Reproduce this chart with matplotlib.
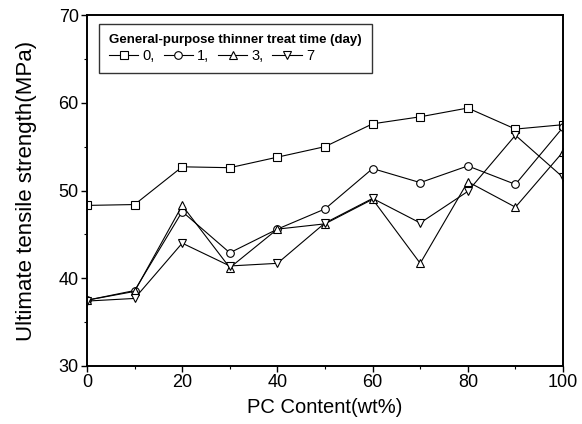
import matplotlib
matplotlib.use('Agg')
import matplotlib.pyplot as plt
from matplotlib.ticker import MultipleLocator

plt.rcParams['font.family'] = ['Liberation Sans', 'DejaVu Sans']

# PC content (wt%) and ultimate tensile strength (MPa) per treatment time
pc_content = [0, 10, 20, 30, 40, 50, 60, 70, 80, 90, 100]
uts_day0 = [48.3, 48.4, 52.7, 52.6, 53.8, 55.0, 57.6, 58.4, 59.4, 57.0, 57.5]
uts_day1 = [37.5, 38.6, 47.6, 42.9, 45.6, 47.9, 52.5, 50.9, 52.8, 50.7, 57.2]
uts_day3 = [37.5, 38.5, 48.3, 41.2, 45.6, 46.2, 49.0, 41.7, 51.0, 48.1, 54.4]
uts_day7 = [37.4, 37.7, 44.0, 41.4, 41.7, 46.3, 49.1, 46.3, 49.9, 56.3, 51.5]

days = ['0,', '1,', '3,', '7']
markers = ['s', 'o', '^', 'v']
series = [uts_day0, uts_day1, uts_day3, uts_day7]

fig = plt.figure(figsize=(5.82, 4.24), dpi=100)
ax = fig.add_axes([0.1495, 0.1368, 0.8179, 0.8278])

handles = []
for vals, mk, lab in zip(series, markers, days):
    h, = ax.plot(pc_content, vals, color='black', lw=0.8, marker=mk,
                 markersize=5.5, markerfacecolor='white', markeredgecolor='black',
                 markeredgewidth=0.8, label=lab)
    handles.append(h)

ax.set_xlim(0, 100)
ax.set_ylim(30, 70)
ax.xaxis.set_major_locator(MultipleLocator(20))
ax.xaxis.set_minor_locator(MultipleLocator(10))
ax.yaxis.set_major_locator(MultipleLocator(10))
ax.yaxis.set_minor_locator(MultipleLocator(5))
ax.tick_params(which='major', direction='out', length=4, width=1, labelsize=13, pad=2)
ax.tick_params(which='minor', direction='out', length=2.5, width=0.8)
for s in ax.spines.values():
    s.set_linewidth(1.4)

ax.set_xlabel('PC Content(wt%)', fontsize=14.5, labelpad=5)
ax.set_ylabel('Ultimate tensile strength(MPa)', fontsize=16)
ax.yaxis.set_label_coords(-0.105, 0.5)

leg = ax.legend(handles=handles, ncol=4, loc='upper left',
                bbox_to_anchor=(0.025, 0.974), borderaxespad=0,
                title='General-purpose thinner treat time (day)',
                title_fontproperties={'weight': 'bold', 'size': 9.5},
                fontsize=10.5, frameon=True, fancybox=False, edgecolor='black',
                handlelength=2.0, handletextpad=0.3, columnspacing=0.6,
                borderpad=0.7, labelspacing=0.2)
leg.get_frame().set_linewidth(1.0)
leg._legend_box.align = 'left'

fig.savefig('out.png', dpi=100)
